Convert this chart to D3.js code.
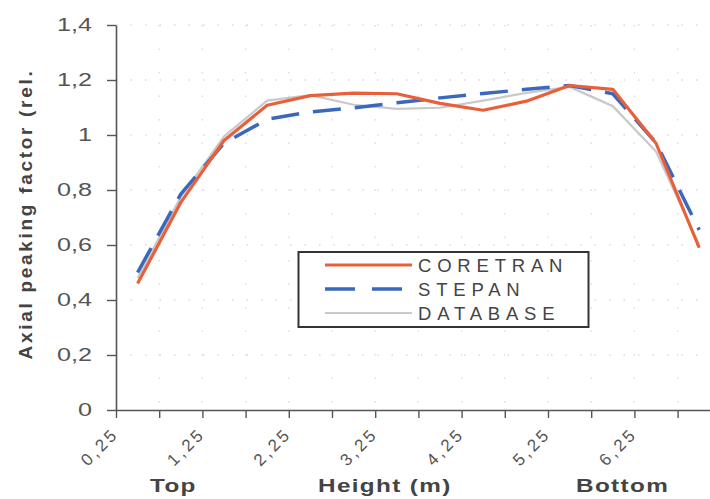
<!DOCTYPE html>
<html>
<head>
<meta charset="utf-8">
<script src="https://cdn.jsdelivr.net/npm/d3@7"></script>
<style>
  body { margin: 0; background: #fff; }
  text { font-family: "Liberation Sans", Arial, sans-serif; }
</style>
</head>
<body>
<svg width="710" height="499"></svg>
<script>
// heights (m) at the middle of each 0.5 m node
var heights = [0.5, 1, 1.5, 2, 2.5, 3, 3.5, 4, 4.5, 5, 5.5, 6, 6.5, 7];
var coretran = [0.46, 0.755, 0.98, 1.108, 1.143, 1.152, 1.15, 1.115, 1.09, 1.123, 1.18, 1.166, 0.97, 0.59];
var stepan   = [0.5, 0.785, 0.97, 1.057, 1.084, 1.099, 1.117, 1.135, 1.151, 1.166, 1.18, 1.15, 0.972, 0.655];
var database = [0.48, 0.775, 0.995, 1.125, 1.145, 1.11, 1.095, 1.099, 1.125, 1.153, 1.175, 1.105, 0.94, 0.6];
var xTicks = [0.25, 0.75, 1.25, 1.75, 2.25, 2.75, 3.25, 3.75, 4.25, 4.75, 5.25, 5.75, 6.25, 6.75];
var xLabels = [0.25, 1.25, 2.25, 3.25, 4.25, 5.25, 6.25];
var yTicks = [0, 0.2, 0.4, 0.6, 0.8, 1, 1.2, 1.4];
var names = ["CORETRAN", "STEPAN", "DATABASE"];

var svg = d3.select("svg");

var x = d3.scaleLinear().domain([0.25, 7.25]).range([116, 720.8]);
var y = d3.scaleLinear().domain([0, 1.4]).range([410, 25]);

var comma = function(d) { return String(d).replace(".", ","); };

// faint dotted grid
svg.append("g").selectAll("line").data(yTicks.slice(1)).join("line")
    .attr("x1", x(0.25)).attr("x2", 710)
    .attr("y1", d => y(d)).attr("y2", d => y(d))
    .attr("stroke", "#c8c8c8").attr("stroke-width", 1.2)
    .attr("stroke-dasharray", "1.5,13");
svg.append("g").selectAll("line").data(xTicks.slice(1)).join("line")
    .attr("x1", d => x(d)).attr("x2", d => x(d))
    .attr("y1", y(1.4)).attr("y2", y(0))
    .attr("stroke", "#d8d8d8").attr("stroke-width", 1.2)
    .attr("stroke-dasharray", "1.5,22");

// y axis
var yAxis = svg.append("g")
    .attr("transform", "translate(" + x(0.25) + ",0)")
    .call(d3.axisLeft(y).tickValues(yTicks).tickSize(9).tickSizeOuter(0).tickFormat(comma));
yAxis.select(".domain").attr("stroke", "#555").attr("stroke-width", 1.6);
yAxis.selectAll(".tick line").attr("stroke", "#555").attr("stroke-width", 1.4);
yAxis.selectAll(".tick text").attr("x", 0)
    .attr("transform", "translate(-24,0) scale(1.4,1)")
    .attr("fill", "#555")
    .style("font-size", "18px");

// x axis
var xAxis = svg.append("g")
    .attr("transform", "translate(0," + y(0) + ")")
    .call(d3.axisBottom(x).tickValues(xTicks).tickSize(8).tickSizeOuter(0).tickFormat(""));
xAxis.select(".domain").attr("stroke", "#555").attr("stroke-width", 1.6);
xAxis.selectAll(".tick line").attr("stroke", "#555").attr("stroke-width", 1.4);

svg.append("g").selectAll("text").data(xLabels).join("text")
    .attr("transform", d => "translate(" + (x(d) + 3.6) + ",435) rotate(-45)")
    .attr("text-anchor", "end")
    .attr("fill", "#555")
    .style("font-size", "17px")
    .style("letter-spacing", "3px")
    .text(comma);

// axis titles
svg.append("text")
    .attr("transform", "translate(32,214) rotate(-90)")
    .attr("text-anchor", "middle")
    .attr("fill", "#444").style("font-size", "19px").style("font-weight", "bold")
    .style("letter-spacing", "2.7px")
    .text("Axial peaking factor (rel.");
var bottom = [["Top", 150], ["Height (m)", 318], ["Bottom", 576]];
svg.append("g").selectAll("text").data(bottom).join("text")
    .attr("transform", d => "translate(" + d[1] + ",492) scale(1.35,1)")
    .attr("fill", "#444").style("font-size", "18px").style("font-weight", "bold")
    .style("letter-spacing", "1px")
    .text(d => d[0]);

// lines
var line = d3.line().x((d, i) => x(heights[i])).y(d => y(d));
var styles = [
  {data: database, color: "#c9c9c9", width: 2.2, dash: null},
  {data: stepan, color: "#3b68bd", width: 3.5, dash: "28,14"},
  {data: coretran, color: "#e8603a", width: 3.2, dash: null}
];
svg.append("g").selectAll("path").data(styles).join("path")
    .attr("d", d => line(d.data))
    .attr("fill", "none")
    .attr("stroke", d => d.color)
    .attr("stroke-width", d => d.width)
    .attr("stroke-dasharray", d => d.dash)
    .attr("stroke-linejoin", "round");

// legend
var legend = svg.append("g");
legend.append("rect")
    .attr("x", 298.5).attr("y", 252).attr("width", 290).attr("height", 75)
    .attr("fill", "#fff").attr("stroke", "#333").attr("stroke-width", 2);
var legendStyles = [styles[2], styles[1], styles[0]];
legendStyles.forEach(function(s, i) {
  var ly = 265 + i * 24;
  legend.append("line")
      .attr("x1", 325).attr("x2", 412).attr("y1", ly).attr("y2", ly)
      .attr("stroke", s.color).attr("stroke-width", s.width)
      .attr("stroke-dasharray", s.dash ? "30,17" : null);
  legend.append("text")
      .attr("x", 418).attr("y", ly).attr("dy", "0.36em")
      .attr("fill", "#444").style("font-size", "18.5px")
      .style("letter-spacing", "5.8px")
      .text(names[i]);
});
</script>
</body>
</html>
